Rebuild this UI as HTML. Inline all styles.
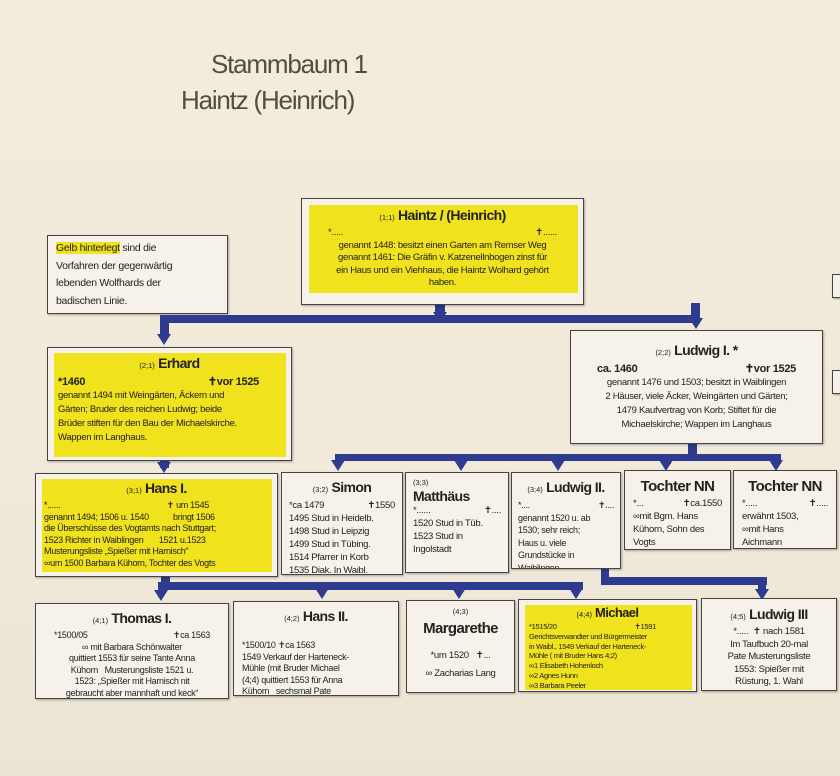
<!DOCTYPE html>
<html><head><meta charset="utf-8">
<style>
html,body{margin:0;padding:0}
body{width:840px;height:776px;position:relative;overflow:hidden;background:linear-gradient(180deg,#f3ecdc 0%,#f1eadb 60%,#ece4d3 100%);font-family:"Liberation Sans Narrow","Liberation Sans",sans-serif;color:#222}
.t{position:absolute;color:#544e42;font-size:26px;line-height:32px;letter-spacing:-1.2px}
.b{position:absolute;background:#f6f2ea;border:1px solid #444;box-shadow:1px 1px 2px rgba(0,0,0,.3);box-sizing:border-box;font-size:9.5px;line-height:12.5px;text-align:center;overflow:hidden;letter-spacing:-0.3px;white-space:nowrap}
.y{position:absolute;background:#f0e21c}
.in{position:relative;padding:3px 4px}
.h{font-weight:bold;font-size:14px;line-height:18px;letter-spacing:-0.6px}
.s{font-size:7.5px;font-weight:normal;letter-spacing:0}
.l{text-align:left}
.row{display:flex;justify-content:space-between}
.bar{position:absolute;background:#2f3b8f}
.ar{position:absolute;width:0;height:0;border-left:7px solid transparent;border-right:7px solid transparent;border-top:11px solid #2f3b8f}
</style></head><body>
<div class="t" style="left:211px;top:48px">Stammbaum 1</div>
<div class="t" style="left:181px;top:84px">Haintz (Heinrich)</div>

<div class="b l" style="left:47px;top:235px;width:181px;height:79px;font-size:10.5px;line-height:17.5px;padding:4px 8px;letter-spacing:-0.3px"><span style="background:#f0e21c">Gelb hinterlegt</span> sind die<br>Vorfahren der gegenwärtig<br>lebenden Wolfhards der<br>badischen Linie.</div>

<div class="b" style="left:832px;top:274px;width:12px;height:24px"></div>
<div class="b" style="left:832px;top:370px;width:12px;height:24px"></div>

<!-- connectors -->
<div class="bar" style="left:435px;top:305px;width:10px;height:15px"></div>
<div class="ar" style="left:433px;top:312px"></div>
<div class="bar" style="left:160px;top:315px;width:540px;height:8px"></div>
<div class="bar" style="left:160px;top:315px;width:9px;height:22px"></div>
<div class="ar" style="left:157px;top:334px"></div>
<div class="bar" style="left:691px;top:303px;width:9px;height:18px"></div>
<div class="ar" style="left:689px;top:318px"></div>

<div class="bar" style="left:688px;top:443px;width:9px;height:14px"></div>
<div class="bar" style="left:335px;top:454px;width:446px;height:7px"></div>
<div class="bar" style="left:160px;top:460px;width:9px;height:8px"></div>
<div class="ar" style="left:157px;top:462px"></div>
<div class="ar" style="left:331px;top:460px"></div>
<div class="ar" style="left:454px;top:460px"></div>
<div class="ar" style="left:551px;top:460px"></div>
<div class="ar" style="left:659px;top:460px"></div>
<div class="ar" style="left:769px;top:460px"></div>
<div class="bar" style="left:662px;top:458px;width:9px;height:6px"></div>
<div class="bar" style="left:772px;top:458px;width:9px;height:6px"></div>

<div class="bar" style="left:161px;top:576px;width:9px;height:12px"></div>
<div class="bar" style="left:158px;top:582px;width:425px;height:8px"></div>
<div class="ar" style="left:154px;top:590px"></div>
<div class="ar" style="left:315px;top:588px"></div>
<div class="ar" style="left:452px;top:588px"></div>
<div class="ar" style="left:569px;top:588px"></div>
<div class="bar" style="left:601px;top:568px;width:8px;height:17px"></div>
<div class="bar" style="left:601px;top:577px;width:166px;height:8px"></div>
<div class="bar" style="left:758px;top:577px;width:8px;height:14px"></div>
<div class="ar" style="left:755px;top:589px"></div>

<!-- Haintz -->
<div class="b" style="left:301px;top:198px;width:283px;height:107px">
<div class="y" style="left:7px;top:6px;width:269px;height:88px"></div>
<div class="in" style="padding:3px 8px"><div class="h" style="padding-top:4px"><span class="s">(1;1)</span> Haintz / (Heinrich)</div>
<div class="row" style="padding:0 18px"><span>*.....</span><span>&#10013;......</span></div>
genannt 1448: besitzt einen Garten am Remser Weg<br>genannt 1461: Die Gräfin v. Katzenellnbogen zinst für<br>ein Haus und ein Viehhaus, die Haintz Wolhard gehört<br>haben.</div></div>

<!-- Erhard -->
<div class="b l" style="left:47px;top:347px;width:245px;height:114px">
<div class="y" style="left:6px;top:5px;width:232px;height:104px"></div>
<div class="in" style="padding:6px 10px;line-height:14px"><div class="h" style="text-align:center"><span class="s">(2;1)</span> Erhard</div>
<div class="row" style="font-weight:bold;font-size:11px;padding-right:22px"><span>*1460</span><span>&#10013;vor 1525</span></div>
genannt 1494 mit Weingärten, Äckern und<br>Gärten; Bruder des reichen Ludwig; beide<br>Brüder stiften für den Bau der Michaelskirche.<br>Wappen im Langhaus.</div></div>

<!-- Ludwig I -->
<div class="b" style="left:570px;top:330px;width:253px;height:114px">
<div class="in" style="padding:10px 8px 0;line-height:14px"><div class="h"><span class="s">(2;2)</span> Ludwig I. *</div>
<div class="row" style="font-weight:bold;font-size:11px;padding:0 18px"><span>ca. 1460</span><span>&#10013;vor 1525</span></div>
genannt 1476 und 1503; besitzt in Waiblingen<br>2 Häuser, viele Äcker, Weingärten und Gärten;<br>1479 Kaufvertrag von Korb; Stiftet für die<br>Michaelskirche; Wappen im Langhaus</div></div>

<!-- row 3 -->
<div class="b l" style="left:35px;top:473px;width:243px;height:104px">
<div class="y" style="left:6px;top:5px;width:230px;height:93px"></div>
<div class="in" style="padding:5px 8px;line-height:11.5px;font-size:9px"><div class="h" style="text-align:center"><span class="s">(3;1)</span> Hans I.</div>
<div class="row" style="padding-right:60px"><span>*......</span><span>&#10013; um 1545</span></div>
genannt 1494; 1506 u. 1540 &nbsp;&nbsp;&nbsp;&nbsp;&nbsp;&nbsp;&nbsp;&nbsp;&nbsp;&nbsp;bringt 1506<br>die Überschüsse des Vogtamts nach Stuttgart;<br>1523 Richter in Waiblingen &nbsp;&nbsp;&nbsp;&nbsp;&nbsp;&nbsp;1521 u.1523<br>Musterungsliste „Spießer mit Harnisch“<br>&#8734;um 1500 Barbara Kühorn, Tochter des Vogts</div></div>

<div class="b l" style="left:281px;top:472px;width:122px;height:103px">
<div class="in" style="padding:5px 7px;line-height:13px"><div class="h" style="text-align:center"><span class="s">(3;2)</span> Simon</div>
<div class="row"><span>*ca 1479</span><span>&#10013;1550</span></div>
1495 Stud in Heidelb.<br>1498 Stud in Leipzig<br>1499 Stud in Tübing.<br>1514 Pfarrer in Korb<br>1535 Diak. In Waibl.</div></div>

<div class="b l" style="left:405px;top:472px;width:104px;height:101px">
<div class="in" style="padding:3px 7px;line-height:13px"><span class="s">(3;3)</span><div class="h" style="line-height:15px">Matthäus</div>
<div class="row"><span>*......</span><span>&#10013;....</span></div>
1520 Stud in Tüb.<br>1523 Stud in<br>Ingolstadt</div></div>

<div class="b l" style="left:511px;top:472px;width:110px;height:97px">
<div class="in" style="padding:5px 6px;line-height:12.5px;font-size:9px"><div class="h" style="text-align:center"><span class="s">(3;4)</span> Ludwig II.</div>
<div class="row"><span>*....</span><span>&#10013;....</span></div>
genannt 1520 u. ab<br>1530; sehr reich;<br>Haus u. viele<br>Grundstücke in<br>Waiblingen</div></div>

<div class="b l" style="left:624px;top:470px;width:107px;height:80px">
<div class="in" style="padding:6px 8px;line-height:13px"><div class="h" style="text-align:center;font-size:15px;line-height:20px">Tochter NN</div>
<div class="row"><span>*...</span><span>&#10013;ca.1550</span></div>
&#8734;mit Bgm. Hans<br>Kühorn, Sohn des<br>Vogts</div></div>

<div class="b l" style="left:733px;top:470px;width:104px;height:79px">
<div class="in" style="padding:6px 8px;line-height:13px"><div class="h" style="text-align:center;font-size:15px;line-height:20px">Tochter NN</div>
<div class="row"><span>*.....</span><span>&#10013;.....</span></div>
erwähnt 1503,<br>&#8734;mit Hans<br>Aichmann</div></div>

<!-- row 4 -->
<div class="b" style="left:35px;top:603px;width:194px;height:96px">
<div class="in" style="padding:5px 6px;line-height:11.5px;font-size:9px"><div class="h"><span class="s">(4;1)</span> Thomas I.</div>
<div class="row" style="padding:0 12px"><span>*1500/05</span><span>&#10013;ca 1563</span></div>
&#8734; mit Barbara Schönwalter<br>quittiert 1553 für seine Tante Anna<br>Kühorn &nbsp;&nbsp;Musterungsliste 1521 u.<br>1523: „Spießer mit Harnisch nit<br>gebraucht aber mannhaft und keck“</div></div>

<div class="b l" style="left:233px;top:601px;width:166px;height:95px">
<div class="in" style="padding:5px 8px;line-height:11.5px;font-size:9px"><div class="h" style="text-align:center"><span class="s">(4;2)</span> Hans II.</div>
<div style="height:12px"></div>
*1500/10 &#10013;ca 1563<br>1549 Verkauf der Harteneck-<br>Mühle (mit Bruder Michael<br>(4;4) quittiert 1553 für Anna<br>Kühorn &nbsp;&nbsp;sechsmal Pate</div></div>

<div class="b" style="left:406px;top:600px;width:109px;height:93px">
<div class="in" style="padding:5px 4px;line-height:12px"><span class="s">(4;3)</span><div class="h" style="line-height:22px;font-size:15px">Margarethe</div>
<div style="height:10px"></div>
<div>*um 1520 &nbsp;&nbsp;&#10013;...</div><div style="height:6px"></div>
<div>&#8734; Zacharias Lang</div></div></div>

<div class="b l" style="left:518px;top:599px;width:179px;height:93px">
<div class="y" style="left:6px;top:5px;width:167px;height:85px"></div>
<div class="in" style="padding:5px 10px;font-size:7.5px;line-height:9.8px"><div class="h" style="text-align:center;font-size:13px;line-height:15px"><span class="s">(4;4)</span> Michael</div>
<div class="row" style="padding-right:30px"><span>*1515/20</span><span>&#10013;1591</span></div>
Gerichtsverwandter und Bürgermeister<br>in Waibl., 1549 Verkauf der Harteneck-<br>Mühle ( mit Bruder Hans 4;2)<br>&#8734;1 Elisabeth Hohenloch<br>&#8734;2 Agnes Hunn<br>&#8734;3 Barbara Peeler</div></div>

<div class="b" style="left:701px;top:598px;width:136px;height:93px">
<div class="in" style="padding:6px 8px;line-height:12.5px"><div class="h"><span class="s">(4;5)</span> Ludwig III</div>
<div>*..... &nbsp;&#10013; nach 1581</div>
Im Taufbuch 20-mal<br>Pate Musterungsliste<br>1553: Spießer mit<br>Rüstung, 1. Wahl</div></div>
</body></html>
